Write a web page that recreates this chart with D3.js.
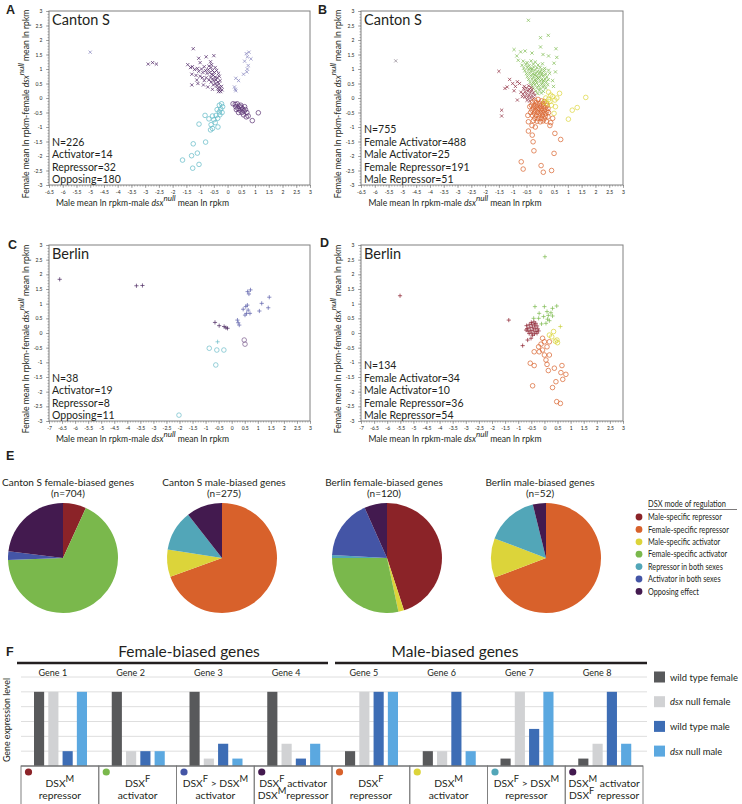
<!DOCTYPE html>
<html>
<head>
<meta charset="utf-8">
<script src="https://cdn.jsdelivr.net/npm/d3@7"></script>
<style>
    body { margin: 0; background: #fff; }
    svg text { font-family: Lato, "Open Sans", sans-serif; fill: #231f20; }
</style>
</head>
<body>
<svg id="fig" width="742" height="804"></svg>
<script>
(function () {
    // ---------- scatter data (x = male diff, y = female diff) ----------
    const aOpposingX = [[-2.89,1.17],[-2.73,1.22],[-2.59,1.17],
        [-1.25,1.70],[-0.78,1.42],[-0.5,1.46],[-1.05,1.37],[-1.0,1.22],[-0.62,1.25],
        [-1.45,1.15],[-1.35,1.05],[-1.28,1.08],[-1.2,0.98],[-1.1,1.02],[-1.05,0.92],[-0.95,1.0],[-0.9,0.88],[-0.85,1.08],[-0.8,0.95],
        [-1.3,0.82],[-1.15,0.78],[-1.0,0.75],[-0.92,0.70],[-0.75,0.85],[-0.7,0.98],[-0.68,1.1],[-0.6,1.05],[-0.55,0.95],
        [-0.65,0.88],[-0.58,0.82],[-0.52,0.78],[-0.48,0.88],[-0.45,0.72],[-0.62,0.72],[-0.55,0.66],[-0.5,0.6],[-0.42,0.62],
        [-0.38,0.7],[-0.35,0.55],[-0.45,0.5],[-0.52,0.45],[-0.4,0.42],[-0.32,0.48],[-0.3,0.38],[-0.36,0.32],[-0.28,0.3],
        [-0.25,0.22],[-0.2,0.28],[-0.33,0.22],[-0.22,0.4],[-0.27,0.6],[-0.6,0.55],[-0.68,0.62],
        [-1.3,0.45],[-1.08,0.5],[-0.88,0.45],[-0.72,0.38],[-0.55,0.3],[-0.85,0.6],[-0.78,0.7],[-1.12,0.62],
        [-0.4,0.95],[-0.33,0.85],[-0.45,1.05],[-0.3,0.75],[-0.58,1.15]];
    const aActivator = [[-5.0,1.58],[0.68,1.53],[0.78,1.58],[0.72,1.42],[0.85,1.35],[0.62,1.27],[0.75,1.12],[0.72,1.0],
        [0.7,0.9],[0.58,0.82],[0.3,0.68],[0.4,0.6],[0.25,0.38],[0.28,0.3],[0.3,0.25]];
    const aRepressor = [[-0.22,-0.2],[-0.3,-0.25],[-0.18,-0.3],[-0.25,-0.38],[-0.38,-0.4],[-0.3,-0.48],[-0.2,-0.5],[-0.28,-0.58],
        [-0.42,-0.6],[-0.55,-0.62],[-0.68,-0.72],[-0.5,-0.75],[-0.36,-0.7],[-0.45,-0.85],[-0.6,-0.92],[-0.55,-1.05],[-0.62,-1.1],
        [-0.35,-1.0],[-0.82,-0.6],[-1.04,-0.9],[-0.8,-1.52],[-1.25,-1.58],[-1.1,-1.9],[-1.31,-1.99],[-1.64,-2.14],[-1.04,-2.29],[-1.27,-2.42]];
    const aOpposingO = [[0.2,-0.2],[0.28,-0.22],[0.35,-0.2],[0.3,-0.3],[0.42,-0.28],[0.38,-0.36],[0.5,-0.32],[0.45,-0.42],
        [0.55,-0.38],[0.6,-0.45],[0.52,-0.5],[0.65,-0.4],[0.7,-0.5],[0.58,-0.58],[0.75,-0.62],[0.68,-0.65],[0.9,-0.78],
        [1.12,-0.51],[0.48,-0.25],[0.62,-0.3],[0.32,-0.4],[0.4,-0.5]];

    const bOther = [[-5.24,1.28]];
    const bFemaleAct = [[-0.43,2.68],[0.01,2.08],[0.29,2.16],[0.01,1.76],[0.57,1.70],[-0.95,1.67],[-0.71,1.59],[-0.55,1.62],
        [-0.3,1.55],[0.1,1.5],[0.3,1.45],[0.6,1.4],[-0.85,1.45],[0.5,1.2],[0.55,0.9],[0.45,0.6],[0.48,0.4],[-0.8,1.3],
        [-0.62,1.27],[-0.48,1.22],[-0.33,1.28],[-0.18,1.24],
        [-0.66,1.13],[-0.52,1.16],[-0.4,1.12],[-0.25,1.17],[-0.08,1.14],[0.08,1.18],
        [-0.6,1.03],[-0.47,1.06],[-0.36,1.02],[-0.24,1.07],[-0.12,1.04],[0.0,1.06],[0.16,1.02],
        [-0.56,0.94],[-0.43,0.97],[-0.31,0.93],[-0.2,0.96],[-0.09,0.92],[0.04,0.97],[0.15,0.94],[0.3,0.96],
        [-0.5,0.84],[-0.39,0.87],[-0.27,0.83],[-0.17,0.86],[-0.05,0.84],[0.07,0.87],[0.2,0.83],[0.34,0.85],
        [-0.47,0.74],[-0.35,0.77],[-0.24,0.73],[-0.13,0.76],[-0.01,0.74],[0.11,0.77],[0.24,0.73],
        [-0.42,0.64],[-0.3,0.66],[-0.19,0.63],[-0.06,0.67],[0.05,0.64],[0.17,0.66],[0.29,0.63],
        [-0.37,0.54],[-0.25,0.56],[-0.13,0.53],[-0.01,0.57],[0.1,0.54],[0.22,0.56],
        [-0.31,0.44],[-0.19,0.46],[-0.06,0.43],[0.05,0.47],[0.15,0.44],[0.27,0.46],
        [-0.25,0.34],[-0.12,0.36],[-0.01,0.33],[0.1,0.37],[0.2,0.34],
        [-0.16,0.24],[-0.03,0.27],[0.11,0.23],[-0.09,0.15],[0.04,0.17],
        [-0.2,0.8],[-0.1,0.7],[0.0,0.9],[-0.3,1.0],[-0.15,0.6],[0.05,0.8],[-0.25,0.5],[0.12,0.6]];
    const bMaleRep = [[-0.6,0.32],[-0.5,0.34],[-0.4,0.3],[-0.3,0.28],[-0.55,0.22],[-0.45,0.24],[-0.35,0.2],[-0.25,0.18],
        [-0.62,0.14],[-0.5,0.13],[-0.4,0.1],[-0.3,0.08],[-0.2,0.1],[-0.55,0.03],[-0.45,0.02],[-0.35,0.0],[-0.25,-0.02],
        [-0.48,-0.08],[-0.38,-0.1],[-0.58,0.4],[-0.42,0.42],[-0.33,0.36],[-0.7,0.2],[-0.65,0.05],
        [-1.5,0.92],[-1.11,0.64],[-0.83,0.56],[-1.28,0.33],[-1.2,0.38],[-0.95,0.25],[-0.83,-0.07],[-1.4,-0.42],
        [-1.4,-0.62],[-0.75,0.5],[-1.0,0.5],[-0.9,0.4]];
    const bMaleAct = [[0.38,0.1],[0.7,0.16],[0.53,-0.07],[1.65,0.02],[1.34,-0.33],[1.16,-0.42],[1.02,-0.73],[0.5,-0.53],
        [0.3,-0.05],[0.25,-0.2],[0.4,-0.25],[0.35,-0.12],[0.2,0.0],[0.45,0.05],[0.3,0.2],[0.55,-0.3],[0.15,-0.15],[0.6,0.0]];
    const bFemaleRep = [[-0.2,-0.08],[-0.08,-0.05],[0.05,-0.1],[0.15,-0.12],[-0.28,-0.15],[-0.15,-0.16],[-0.02,-0.18],
        [0.1,-0.2],[0.22,-0.18],[-0.32,-0.25],[-0.2,-0.26],[-0.1,-0.24],[0.02,-0.27],[0.12,-0.28],[0.25,-0.26],
        [-0.25,-0.34],[-0.14,-0.33],[-0.04,-0.35],[0.06,-0.36],[0.18,-0.34],[0.28,-0.36],
        [-0.3,-0.42],[-0.18,-0.43],[-0.08,-0.41],[0.03,-0.44],[0.14,-0.42],[0.24,-0.45],[-0.22,-0.52],[-0.1,-0.5],
        [0.0,-0.53],[0.1,-0.51],[0.2,-0.54],[-0.28,-0.6],[-0.15,-0.6],[-0.04,-0.62],[0.08,-0.6],[0.18,-0.63],
        [-0.2,-0.7],[-0.08,-0.71],[0.04,-0.7],[0.14,-0.72],[-0.12,-0.8],[0.0,-0.82],[0.1,-0.79],[-0.25,-0.78],
        [0.28,-0.65],[-0.35,-0.5],[0.3,-0.5],[0.22,-0.8],
        [-0.43,-0.82],[0.38,-0.85],[-0.43,-1.14],[-0.29,-1.28],[-0.26,-1.51],[-0.23,-1.82],[0.53,-1.22],[0.74,-1.43],
        [0.5,-1.91],[-0.69,-2.2],[-0.62,-2.45],[0.03,-2.33],[0.11,-2.56],[0.41,-2.5],[0.35,-0.95],[-0.3,-0.95],
        [-0.18,-1.0],[0.45,-0.7],[-0.38,-0.3],[-0.45,-0.6]];

    const cOpposingP = [[-6.59,1.83],[-3.65,1.61],[-3.42,1.62],[-0.64,0.36],[-0.48,0.25],[-0.29,0.22],[-0.22,0.18],[-0.16,0.16]];
    const cActivator = [[0.22,0.44],[0.29,0.27],[0.25,0.35],[0.44,0.81],[0.54,0.9],[0.57,0.67],[0.63,0.78],[0.7,0.67],
        [0.61,1.41],[0.72,1.47],[0.66,1.33],[1.15,1.01],[1.44,1.22],[1.4,0.86],[1.06,0.75],[0.51,0.61],[0.6,0.95]];
    const cRepressorP = [[-0.54,-0.3]];
    const cRepressorO = [[-0.86,-0.52],[-0.57,-0.58],[-0.3,-0.58],[-0.61,-1.09],[-2.02,-2.8]];
    const cOpposingO = [[0.48,-0.24],[0.51,-0.38]];

    const dFemaleAct = [[0.02,2.6],[-0.36,0.9],[0.0,0.9],[0.31,0.84],[0.47,0.92],[-0.2,0.67],[0.1,0.73],[0.25,0.69],
        [-0.41,0.5],[-0.22,0.5],[-0.03,0.56],[0.12,0.47],[-0.11,0.31],[0.06,0.33],[0.19,0.42],[0.31,0.58],[0.15,0.6]];
    const dMaleRep = [[-5.51,1.27],[-1.36,0.44],[-0.68,0.25],[-0.58,0.28],[-0.48,0.3],[-0.38,0.27],[-0.28,0.24],[-0.65,0.15],
        [-0.55,0.18],[-0.45,0.2],[-0.35,0.16],[-0.25,0.14],[-0.62,0.06],[-0.52,0.08],[-0.42,0.1],[-0.32,0.05],
        [-0.22,0.07],[-0.58,-0.02],[-0.48,0.0],[-0.38,-0.03],[-0.28,-0.01],[-0.5,0.36],[-0.4,0.38],[-0.7,0.1],
        [-0.45,-0.08],[-0.33,0.33],[-0.64,-0.24],[-0.83,-0.43],[-0.51,-0.18]];
    const dMaleActP = [[0.61,0.22]];
    const dMaleAct = [[0.19,-0.07],[0.35,0.05],[0.28,-0.13],[0.48,-0.24],[0.5,-0.33],[0.42,-0.28]];
    const dFemaleRep = [[-0.07,-0.18],[0.0,-0.3],[0.19,-0.3],[-0.13,-0.38],[-0.22,-0.47],[-0.39,-0.64],[-0.2,-0.64],
        [-0.07,-0.58],[0.1,-0.47],[0.0,-0.75],[0.19,-0.75],[0.06,-0.92],[0.1,-1.07],[-0.54,-1.03],[-0.39,-1.11],
        [0.67,-1.11],[0.38,-1.2],[0.15,-1.28],[0.63,-1.35],[0.82,-1.41],[0.7,-1.58],[0.44,-1.66],[-0.45,-1.8],
        [0.31,-1.86],[0.47,-2.34],[0.61,-2.4]];

    // ---------- pie data ----------
    const modes = ["Male-specific repressor", "Female-specific repressor", "Male-specific activator",
        "Female-specific activator", "Repressor in both sexes", "Activator in both sexes", "Opposing effect"];
    const pieTitles = ["Canton S female-biased genes", "Canton S male-biased genes",
        "Berlin female-biased genes", "Berlin male-biased genes"];
    const pieN = ["(n=704)", "(n=275)", "(n=120)", "(n=52)"];
    const cantonFemale = [48, 0, 0, 476, 0, 18, 162];
    const cantonMale = [0, 191, 22, 0, 33, 0, 29];
    const berlinFemale = [54, 0, 2, 34, 1, 21, 8];
    const berlinMale = [0, 36, 6, 0, 8, 0, 2];

    // ---------- panel F data ----------
    const genes = ["Gene 1", "Gene 2", "Gene 3", "Gene 4", "Gene 5", "Gene 6", "Gene 7", "Gene 8"];
    const seriesNames = ["wild type female", "dsx null female", "wild type male", "dsx null male"];
    const wtFemale = [5, 5, 5, 5, 1, 1, 0.5, 0.5];
    const nullFemale = [5, 1, 0.5, 1.5, 5, 1, 5, 1.5];
    const wtMale = [1, 1, 1.5, 0.5, 5, 5, 2.5, 5];
    const nullMale = [5, 1, 0.5, 1.5, 5, 1, 5, 1.5];
    const cellLine1 = ["DSX^M", "DSX^F", "DSX^F > DSX^M", "DSX^F activator", "DSX^F", "DSX^M", "DSX^F > DSX^M", "DSX^M activator"];
    const cellLine2 = ["repressor", "activator", "activator", "DSX^Mrepressor", "repressor", "activator", "repressor", "DSX^F repressor"];
    const cellMode = [0, 3, 5, 6, 1, 2, 4, 6];

    // ---------- styles ----------
    const modeColors = ["#8b2328", "#d8612b", "#dcd43a", "#7ab84c", "#52a6b8", "#4455a6", "#431a4f"];
    const barColors = ["#58595b", "#d1d2d4", "#3d6db5", "#5ba8e0"];

    const svg = d3.select("#fig");

    const markerPath = {
        x: "M-1.6,-1.6L1.6,1.6M-1.6,1.6L1.6,-1.6",
        p: "M-2.1,0H2.1M0,-2.1V2.1"
    };

    const appendRich = function (sel, str, supSize) {
        str.split(/(\^\w)/).forEach(function (tok) {
            if (!tok) return;
            if (tok[0] === "^") {
                sel.append("tspan").attr("baseline-shift", "super").attr("font-size", supSize).text(tok.slice(1));
            } else {
                sel.append("tspan").text(tok);
            }
        });
    };

    const axisLabel = function (sel, before, after) {
        sel.append("tspan").text(before);
        sel.append("tspan").style("font-style", "italic").text("dsx");
        sel.append("tspan").style("font-style", "italic").attr("baseline-shift", "super").attr("font-size", 8).text("null");
        sel.append("tspan").text(after);
    };

    // squeeze a text horizontally so it spans the given width (condensed look)
    const squeeze = function (sel, width) {
        const len = sel.node().getComputedTextLength();
        if (len > 0) sel.attr("transform", "scale(" + (width / len) + ",1)");
    };

    const fmt = function (d) {
        return String(Math.round(d * 10) / 10);
    };

    const drawScatter = function (p) {
        const g = svg.append("g");
        const x = d3.scaleLinear().domain([p.xmin, 3]).range([p.x0, p.x1]);
        const y = d3.scaleLinear().domain([-3, 3]).range([p.y1, p.y0]);

        const xMajor = d3.range(p.xmin * 2, 7).map(d => d / 2);
        const xMinor = d3.range(p.xmin * 10, 31).map(d => d / 10);
        const yMajor = d3.range(-6, 7).map(d => d / 2);
        const yMinor = d3.range(-30, 31).map(d => d / 10);

        const xa = g.append("g").attr("transform", "translate(0," + p.y1 + ")");
        xa.call(d3.axisBottom(x).tickValues(xMinor).tickSize(1.5).tickFormat(""));
        xa.append("g").call(d3.axisBottom(x).tickValues(xMajor).tickSize(3).tickFormat(fmt));
        const ya = g.append("g").attr("transform", "translate(" + p.x0 + ",0)");
        ya.call(d3.axisLeft(y).tickValues(yMinor).tickSize(1.5).tickFormat(""));
        ya.append("g").call(d3.axisLeft(y).tickValues(yMajor).tickSize(3).tickFormat(fmt));
        g.selectAll(".domain").remove();
        g.selectAll(".tick line").attr("stroke", "#777").attr("stroke-width", 0.6);
        g.selectAll(".tick text").attr("font-size", 5).attr("fill", "#333")
            .style("font-family", "Lato, sans-serif");
        xa.selectAll(".tick text").attr("dy", "0.5em");
        ya.selectAll(".tick text").attr("dx", "-0.1em");

        g.append("rect")
            .attr("x", p.x0).attr("y", p.y0)
            .attr("width", p.x1 - p.x0).attr("height", p.y1 - p.y0)
            .attr("fill", "none").attr("stroke", "#808080").attr("stroke-width", 1);

        p.groups.forEach(function (grp) {
            const sel = g.append("g").selectAll("g").data(grp.data).join("g")
                .attr("transform", d => "translate(" + x(d[0]) + "," + y(d[1]) + ")");
            if (grp.shape === "o") {
                sel.append("circle").attr("r", 2.3).attr("fill", "none")
                    .attr("stroke", grp.color).attr("stroke-width", 0.7);
            } else {
                sel.append("path").attr("d", markerPath[grp.shape]).attr("fill", "none")
                    .attr("stroke", grp.color).attr("stroke-width", 0.7);
            }
        });

        g.append("text").attr("x", p.x0 + 3).attr("y", p.y0 + 14)
            .attr("font-size", 14.5).text(p.title);

        p.stats.forEach(function (s, i) {
            g.append("text")
                .attr("x", p.x0 + 3)
                .attr("y", p.y1 - 2 - (p.stats.length - 1 - i) * 12.5)
                .attr("font-size", 10.5).text(s);
        });

        axisLabel(g.append("text")
            .attr("x", (p.x0 + p.x1) / 2 - 37).attr("y", p.y1 + 21)
            .attr("text-anchor", "middle").attr("font-size", 8.6),
            "Male mean ln rpkm-male ", " mean ln rpkm");

        axisLabel(g.append("text")
            .attr("transform", "translate(" + (p.x0 - 20) + "," + ((p.y0 + p.y1) / 2 + 6) + ") rotate(-90)")
            .attr("text-anchor", "middle").attr("font-size", 8.6),
            "Female mean ln rpkm-female ", " mean ln rpkm");

        svg.append("text").attr("x", p.lx).attr("y", p.ly)
            .attr("font-size", 12.5).attr("font-weight", "bold")
            .style("font-family", "'Liberation Sans', Arial, sans-serif").text(p.letter);
    };

    drawScatter({
        letter: "A", lx: 6, ly: 14, x0: 49, x1: 310, y0: 11, y1: 185, xmin: -6.5, title: "Canton S",
        stats: ["N=226", "Activator=14", "Repressor=32", "Opposing=180"],
        groups: [
            { data: aOpposingX, shape: "x", color: "#4e2464" },
            { data: aActivator, shape: "x", color: "#8381bb" },
            { data: aRepressor, shape: "o", color: "#5fb9c6" },
            { data: aOpposingO, shape: "o", color: "#5a3272" }
        ]
    });
    drawScatter({
        letter: "B", lx: 318, ly: 14, x0: 361, x1: 623, y0: 11, y1: 185, xmin: -6.5, title: "Canton S",
        stats: ["N=755", "Female Activator=488", "Male Activator=25", "Female Repressor=191", "Male Repressor=51"],
        groups: [
            { data: bOther, shape: "x", color: "#8a7f8c" },
            { data: bFemaleAct, shape: "x", color: "#7cba4f" },
            { data: bMaleRep, shape: "x", color: "#8e2b3e" },
            { data: bFemaleRep, shape: "o", color: "#d8612b" },
            { data: bMaleAct, shape: "o", color: "#dcd63c" }
        ]
    });
    drawScatter({
        letter: "C", lx: 8, ly: 249, x0: 49, x1: 310, y0: 245, y1: 421, xmin: -7, title: "Berlin",
        stats: ["N=38", "Activator=19", "Repressor=8", "Opposing=11"],
        groups: [
            { data: cOpposingP, shape: "p", color: "#4a2860" },
            { data: cActivator, shape: "p", color: "#5c60aa" },
            { data: cRepressorP, shape: "p", color: "#6bbcc8" },
            { data: cRepressorO, shape: "o", color: "#6bbcc8" },
            { data: cOpposingO, shape: "o", color: "#7a5a8c" }
        ]
    });
    drawScatter({
        letter: "D", lx: 320, ly: 247, x0: 361, x1: 623, y0: 245, y1: 421, xmin: -7, title: "Berlin",
        stats: ["N=134", "Female Activator=34", "Male Activator=10", "Female Repressor=36", "Male Repressor=54"],
        groups: [
            { data: dFemaleAct, shape: "p", color: "#7cba4f" },
            { data: dMaleRep, shape: "p", color: "#8b1f2e" },
            { data: dMaleActP, shape: "p", color: "#c9d03c" },
            { data: dFemaleRep, shape: "o", color: "#d8612b" },
            { data: dMaleAct, shape: "o", color: "#d9d332" }
        ]
    });

    // ---------- panel E: pies ----------
    svg.append("text").attr("x", 6).attr("y", 460)
        .attr("font-size", 12.5).attr("font-weight", "bold")
        .style("font-family", "'Liberation Sans', Arial, sans-serif").text("E");

    const pieCx = [63, 222, 387, 546];
    const titleCx = [68, 224, 384, 540];
    const pieCy = 558;
    const pie = d3.pie().sort(null).value(d => d);
    const arc = d3.arc().innerRadius(0).outerRadius(55);

    [cantonFemale, cantonMale, berlinFemale, berlinMale].forEach(function (counts, i) {
        const g = svg.append("g").attr("transform", "translate(" + pieCx[i] + "," + pieCy + ")");
        g.selectAll("path").data(pie(counts)).join("path")
            .attr("d", arc)
            .attr("fill", (d, j) => modeColors[j]);
        svg.append("text").attr("x", titleCx[i]).attr("y", 485.5)
            .attr("text-anchor", "middle").attr("font-size", 10).text(pieTitles[i]);
        svg.append("text").attr("x", titleCx[i]).attr("y", 497)
            .attr("text-anchor", "middle").attr("font-size", 10).text(pieN[i]);
    });

    const leg = svg.append("g").attr("transform", "translate(648,0)");
    const legTitle = leg.append("g").attr("transform", "translate(0,507)")
        .append("text").attr("font-size", 9).text("DSX mode of regulation");
    squeeze(legTitle, 78);
    leg.append("line").attr("x1", 0).attr("x2", 89).attr("y1", 509.5).attr("y2", 509.5)
        .attr("stroke", "#231f20").attr("stroke-width", 0.6);
    const legItems = leg.selectAll("g.item").data(modes).join("g")
        .attr("class", "item")
        .attr("transform", (d, i) => "translate(0," + (517 + i * 12.4) + ")");
    legItems.append("circle").attr("cx", -9).attr("r", 3.4).attr("fill", (d, i) => modeColors[i]);
    const legTexts = legItems.append("g").attr("transform", "translate(0,3.2)")
        .append("text").attr("font-size", 9).text(d => d);
    const refLen = legTexts.filter((d, i) => i === 1).node().getComputedTextLength();
    legTexts.attr("transform", "scale(" + (81 / refLen) + ",1)");

    // ---------- panel F: schematic bars ----------
    svg.append("text").attr("x", 6).attr("y", 656)
        .attr("font-size", 12.5).attr("font-weight", "bold")
        .style("font-family", "'Liberation Sans', Arial, sans-serif").text("F");

    const fx = d3.scaleBand().domain(genes).range([21, 643]);
    const fs = d3.scaleBand().domain(seriesNames).range([13, 66]).paddingInner(0.29);
    const fy = d3.scaleLinear().domain([0, 6]).range([766, 677]);

    svg.append("text").attr("x", 189).attr("y", 657).attr("text-anchor", "middle")
        .attr("font-size", 15.5).text("Female-biased genes");
    svg.append("text").attr("x", 455).attr("y", 657).attr("text-anchor", "middle")
        .attr("font-size", 15.5).text("Male-biased genes");
    svg.append("line").attr("x1", 17).attr("x2", 328).attr("y1", 663).attr("y2", 663)
        .attr("stroke", "#231f20").attr("stroke-width", 2.6);
    svg.append("line").attr("x1", 335).attr("x2", 647).attr("y1", 663).attr("y2", 663)
        .attr("stroke", "#231f20").attr("stroke-width", 2.6);

    svg.append("g").selectAll("line").data(fy.ticks(6).filter(d => d > 0)).join("line")
        .attr("x1", 21).attr("x2", 647)
        .attr("y1", d => fy(d)).attr("y2", d => fy(d))
        .attr("stroke", "#dedede").attr("stroke-width", 1);

    svg.append("g").selectAll("text").data(genes).join("text")
        .attr("x", d => fx(d) + fx.bandwidth() / 2 - 7).attr("y", 676)
        .attr("text-anchor", "middle").attr("font-size", 9).text(d => d);

    const seriesValues = [wtFemale, nullFemale, wtMale, nullMale];
    seriesValues.forEach(function (vals, s) {
        svg.append("g").selectAll("rect").data(vals).join("rect")
            .attr("x", (d, i) => fx(genes[i]) + fs(seriesNames[s]))
            .attr("width", fs.bandwidth())
            .attr("y", d => fy(d))
            .attr("height", d => fy(0) - fy(d))
            .attr("fill", barColors[s]);
    });

    const cells = svg.append("g").selectAll("g").data(genes).join("g")
        .attr("transform", d => "translate(" + fx(d) + ",0)");
    cells.append("rect").attr("x", 0).attr("y", fy(0)).attr("width", fx.bandwidth()).attr("height", 60)
        .attr("fill", "none").attr("stroke", "#808080").attr("stroke-width", 1);
    cells.append("circle").attr("cx", 7.5).attr("cy", 772).attr("r", 3.6)
        .attr("fill", (d, i) => modeColors[cellMode[i]]);
    cells.each(function (d, i) {
        const c = d3.select(this);
        const t1 = c.append("text").attr("x", fx.bandwidth() / 2).attr("y", 787)
            .attr("text-anchor", "middle").attr("font-size", 10.3);
        appendRich(t1, cellLine1[i], 9.3);
        const t2 = c.append("text").attr("x", fx.bandwidth() / 2).attr("y", 799)
            .attr("text-anchor", "middle").attr("font-size", 10.3);
        appendRich(t2, cellLine2[i], 9.3);
        [t1, t2].forEach(function (t) {
            const len = t.node().getComputedTextLength();
            if (len > 74) {
                t.attr("textLength", 74).attr("lengthAdjust", "spacingAndGlyphs");
            }
        });
    });
    svg.append("line").attr("x1", 21).attr("x2", 643).attr("y1", fy(0)).attr("y2", fy(0))
        .attr("stroke", "#6d6e71").attr("stroke-width", 1);

    svg.append("text")
        .attr("transform", "translate(10,720) rotate(-90)")
        .attr("text-anchor", "middle").attr("font-size", 8.8).text("Gene expression level");

    const fLeg = svg.append("g").selectAll("g").data(seriesNames).join("g")
        .attr("transform", (d, i) => "translate(654," + (677 + i * 24.7) + ")");
    fLeg.append("rect").attr("x", 0).attr("y", -5.5).attr("width", 11).attr("height", 11)
        .attr("fill", (d, i) => barColors[i]);
    fLeg.each(function (d) {
        const t = d3.select(this).append("text").attr("x", 16).attr("y", 3.5).attr("font-size", 9.4);
        if (d.indexOf("dsx") === 0) {
            t.append("tspan").style("font-style", "italic").text("dsx");
            t.append("tspan").text(d.slice(3));
        } else {
            t.text(d);
        }
    });
})();
</script>
</body>
</html>
